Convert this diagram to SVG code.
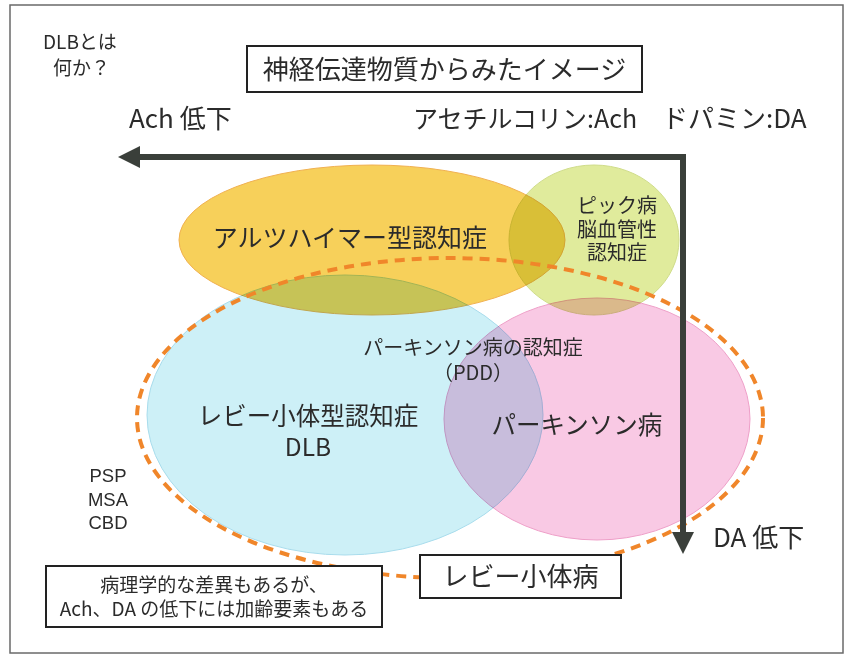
<svg xmlns="http://www.w3.org/2000/svg" width="847" height="656" viewBox="0 0 847 656">
<defs>
<style>
text{font-family:"Noto Sans CJK JP","Noto Sans",sans-serif;fill:#2b2b2b;}
.lat{font-family:"Liberation Sans",Arial,sans-serif;}
.c{text-anchor:middle;}
.blob{mix-blend-mode:multiply;stroke-width:1;}
.box{fill:#fff;stroke:#222;stroke-width:2;}
.f18{font-size:18.5px;} .f19{font-size:19px;} .f20{font-size:20px;} .f24{font-size:24.5px;} .f25{font-size:25px;} .f26{font-size:26px;}
</style>
<marker id="head" viewBox="0 0 22 22" markerWidth="22" markerHeight="22" refX="0" refY="11" orient="auto-start-reverse" markerUnits="userSpaceOnUse">
<path d="M0,0 L22,11 L0,22 z" fill="#3a3f3a"/>
</marker>
</defs>
<rect x="0" y="0" width="847" height="656" fill="#fff"/>
<rect x="10" y="5" width="833" height="648" fill="#fff" stroke="#6a6a6a" stroke-width="1.5"/>

<g id="question">
<text class="f19"><tspan x="43" y="49">DLBとは</tspan><tspan x="53" y="75">何か？</tspan></text>
</g>

<g id="title">
<rect class="box" x="247" y="46" width="395" height="46"/>
<text class="f26 c" x="444.5" y="79">神経伝達物質からみたイメージ</text>
</g>

<g id="legend">
<text class="f26" x="129" y="128">Ach 低下</text>
<text class="f25" x="413" y="128">アセチルコリン:Ach</text>
<text class="f26" x="662" y="128">ドパミン:DA</text>
</g>

<g id="shapes">
<ellipse id="alzheimer-shape" class="blob" cx="372" cy="240" rx="193" ry="75" fill="#f7d05a" stroke="#f0b050"/>
<ellipse id="pick-shape" class="blob" cx="594" cy="240" rx="85" ry="75" fill="#e0eb9c" stroke="#cfdc8a"/>
<ellipse id="dlb-shape" class="blob" cx="345" cy="415" rx="198" ry="140" fill="#cdf0f7" stroke="#a8dcec"/>
<ellipse id="pd-shape" class="blob" cx="597" cy="419" rx="153" ry="121" fill="#f9c9e4" stroke="#ee9fc8"/>
<ellipse id="lewy-body-disease-shape" cx="450" cy="418" rx="313" ry="160" fill="none" stroke="#f0862a" stroke-width="4" stroke-dasharray="10 7"/>
</g>

<g id="connectors">
<path d="M140,157 H683 V532" fill="none" stroke="#3a3f3a" stroke-width="6" stroke-linejoin="miter" marker-start="url(#head)" marker-end="url(#head)"/>
</g>

<g id="alzheimer">
<text class="f25 c" x="350" y="247">アルツハイマー型認知症</text>
</g>
<g id="pick">
<text class="f20 c"><tspan x="617" y="213">ピック病</tspan><tspan x="617" y="237">脳血管性</tspan><tspan x="617" y="260">認知症</tspan></text>
</g>
<g id="pdd">
<text class="f20 c"><tspan x="473" y="355">パーキンソン病の認知症</tspan><tspan x="473" y="380">（PDD）</tspan></text>
</g>
<g id="dlb">
<text class="f24 c" x="308" y="425">レビー小体型認知症</text>
<text class="f24 c" x="308" y="456">DLB</text>
</g>
<g id="pd">
<text class="f24 c" x="577" y="434">パーキンソン病</text>
</g>
<g id="others">
<text class="f18 c lat"><tspan x="108" y="482">PSP</tspan><tspan x="108" y="506">MSA</tspan><tspan x="108" y="529">CBD</tspan></text>
</g>
<g id="da-label">
<text class="f26" x="713" y="547">DA 低下</text>
</g>
<g id="lewy-body-disease">
<rect class="box" x="420" y="555" width="201" height="43"/>
<text class="f26 c" x="520.5" y="586">レビー小体病</text>
</g>
<g id="note">
<rect class="box" x="46" y="566" width="336" height="61"/>
<text class="f19 c"><tspan x="214" y="592">病理学的な差異もあるが、</tspan><tspan x="214" y="616">Ach、DA の低下には加齢要素もある</tspan></text>
</g>
</svg>
